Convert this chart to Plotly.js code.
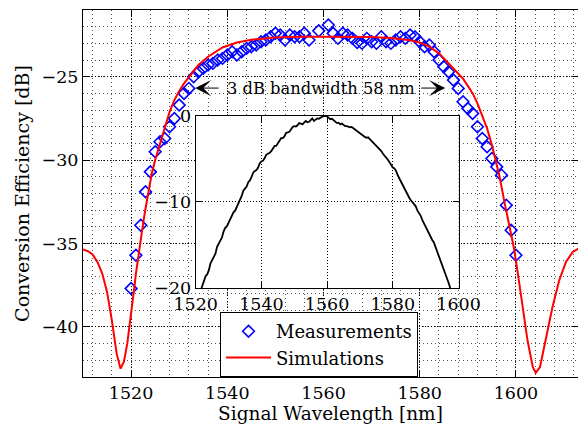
<!DOCTYPE html>
<html><head><meta charset="utf-8">
<script src="https://cdn.plot.ly/plotly-3.0.1.min.js"></script>
<style>html,body{margin:0;padding:0;background:#fff}#chart{width:578px;height:428px}</style>
</head><body><div id="chart"></div>
<script>
// Measurements (diamonds)
const measWl = [1520,1521,1522,1523,1524,1525,1526,1527,1528,1529,1530,1531,1532,1533,1534,1535,1536,1537,1538,1539,
1540,1541,1542,1543,1544,1545,1546,1547,1548,1549,1550,1551,1552,1553,1554,1555,1556,1557,1558,1559,
1560,1561,1562,1563,1564,1565,1566,1567,1568,1569,1570,1571,1572,1573,1574,1575,1576,1577,1578,1579,
1580,1581,1582,1583,1584,1585,1586,1587,1588,1589,1590,1591,1592,1593,1594,1595,1596,1597,1598,1599,1600];
const measCE = [-37.7,-35.7,-33.9,-31.9,-30.7,-29.5,-28.9,-28.7,-28.0,-27.5,-26.7,-26.0,-25.7,-25.0,-24.7,-24.5,-24.3,-24.2,-24.0,-23.9,
-23.7,-23.5,-23.7,-23.5,-23.3,-23.2,-23.1,-22.9,-22.8,-22.6,-22.4,-22.5,-22.8,-22.5,-22.6,-22.6,-22.4,-22.8,null,-22.25,
null,-21.9,-22.4,-22.7,-22.4,-22.5,-22.7,-22.95,-23.0,-22.7,-22.9,-23.0,-22.6,-22.9,-23.0,-22.8,-22.6,-22.7,-22.5,-22.6,
-22.9,-23.2,-23.1,-23.5,-24.0,-24.4,-24.7,-25.2,-25.7,-26.5,-26.9,-27.2,-28.0,-28.7,-29.2,-29.9,-30.4,-30.9,-32.7,-34.2,-35.7];
// Simulations (red line)
const simWl = [1510,1511,1512,1513,1514,1515,1516,1517,1517.8,1518.5,1519.2,1520,1520.6,1521,1521.5,1522,1522.6,1523,1523.6,1524.3,
1525,1526,1527,1528,1529,1530,1531,1532,1534,1536,1539,1542,1545,1550,1555,1560,1565,1570,1574,1576,
1578,1580,1582,1584,1585,1586,1587,1588,1589,1590,1591,1592,1593,1594,1595,1595.7,1596.6,1597.6,1598.6,1599.6,
1600.4,1601.4,1602.4,1603.5,1604.1,1605,1606.2,1607.6,1609,1610.4,1611.8,1613];
const simCE = [-35.35,-35.45,-35.65,-36.1,-36.8,-37.9,-39.6,-41.6,-42.5,-42.1,-41.0,-39.3,-37.8,-36.8,-35.7,-34.7,-33.6,-32.9,-31.8,-30.8,
-30.0,-29.0,-28.0,-27.1,-26.4,-25.85,-25.4,-25.05,-24.3,-23.8,-23.25,-22.95,-22.78,-22.65,-22.6,-22.6,-22.6,-22.62,-22.68,-22.74,
-22.82,-22.95,-23.2,-23.6,-23.9,-24.2,-24.5,-24.8,-25.12,-25.55,-26.0,-26.6,-27.3,-28.1,-29.1,-29.9,-31.0,-32.5,-34.0,-35.3,
-36.8,-38.8,-40.8,-42.4,-42.75,-42.4,-40.8,-38.8,-37.2,-36.1,-35.5,-35.3];
// Inset spectrum (black, noisy)
const insetWl = [1521.5,1522,1522.5,1523,1523.5,1524,1524.5,1525,1525.5,1526,1526.5,1527,1527.5,1528,1528.5,1529,1529.5,1530,1530.5,1531,
1531.5,1532,1532.5,1533,1533.5,1534,1534.5,1535,1535.5,1536,1536.5,1537,1537.5,1538,1538.5,1539,1539.5,1540,1540.5,1541,
1541.5,1542,1542.5,1543,1543.5,1544,1544.5,1545,1545.5,1546,1546.5,1547,1547.5,1548,1548.5,1549,1549.5,1550,1550.5,1551,
1551.5,1552,1552.5,1553,1553.5,1554,1554.5,1555,1555.5,1556,1556.5,1557,1557.5,1558,1558.5,1559,1559.5,1560,1560.5,1561,
1561.5,1562,1562.5,1563,1563.5,1564,1564.5,1565,1565.5,1566,1566.5,1567,1567.5,1568,1568.5,1569,1569.5,1570,1570.5,1571,
1571.5,1572,1572.5,1573,1573.5,1574,1574.5,1575,1575.5,1576,1576.5,1577,1577.5,1578,1578.5,1579,1579.5,1580,1580.5,1581,
1581.5,1582,1582.5,1583,1583.5,1584,1584.5,1585,1585.5,1586,1586.5,1587,1587.5,1588,1588.5,1589,1589.5,1590,1590.5,1591,
1591.5,1592,1592.5,1593,1593.5,1594,1594.5,1595,1595.5,1596,1596.5,1597,1597.5,1597.8];
const insetPow = [-20.3,-19.7,-19.3,-18.6,-18.4,-17.9,-17.1,-16.7,-16.5,-16.0,-15.2,-14.8,-14.6,-14.1,-13.4,-13.0,-12.8,-12.4,-12.2,-11.8,
-11.2,-11.0,-10.6,-10.0,-9.8,-9.3,-8.7,-8.5,-8.2,-7.7,-7.5,-7.1,-6.6,-6.4,-6.3,-6.0,-5.5,-5.3,-5.2,-4.9,
-4.5,-4.4,-4.3,-4.1,-3.7,-3.5,-3.5,-3.2,-2.8,-2.6,-2.6,-2.4,-2.0,-1.9,-1.85,-1.6,-1.3,-1.2,-1.25,-1.1,
-0.85,-0.9,-1.0,-0.8,-0.6,-0.75,-0.7,-0.5,-0.3,-0.6,-0.45,-0.3,-0.35,-0.2,-0.1,-0.05,0.0,-0.1,-0.25,-0.4,
-0.35,-0.55,-0.75,-0.85,-0.8,-1.0,-0.9,-1.05,-1.2,-1.2,-1.25,-1.35,-1.3,-1.45,-1.6,-1.7,-1.95,-2.1,-2.2,-2.4,
-2.45,-2.55,-2.5,-2.7,-2.9,-3.0,-3.25,-3.4,-3.6,-3.9,-4.1,-4.4,-4.6,-4.9,-5.1,-5.4,-5.8,-6.0,-6.1,-6.4,
-6.9,-7.3,-7.6,-8.0,-8.5,-8.8,-9.1,-9.5,-9.8,-10.0,-10.2,-10.5,-11.0,-11.3,-11.6,-12.1,-12.5,-12.8,-13.1,-13.6,
-14.1,-14.4,-14.7,-15.2,-15.9,-16.3,-16.7,-17.2,-17.8,-18.3,-18.7,-19.4,-20.0,-20.4];

const mainXTicks = [1520,1540,1560,1580,1600];
const mainYTicks = [-40,-35,-30,-25];
const insetXTicks = [1520,1540,1560,1580,1600];
const insetYTicks = [-20,-10,0];

const FONT = 'DejaVu Serif';
const gridMajor = {showgrid:true, gridcolor:'#000', gridwidth:1, griddash:'1px,2px'};

const traces = [
  {x:measWl, y:measCE, type:'scatter', mode:'markers', name:'Measurements',
   marker:{symbol:'diamond-open', size:9, color:'#0000ff', line:{width:1.6, color:'#0000ff'}},
   xaxis:'x', yaxis:'y'},
  {x:simWl, y:simCE, type:'scatter', mode:'lines', name:'Simulations',
   line:{color:'#ff0000', width:2}, xaxis:'x', yaxis:'y'},
  {x:insetWl, y:insetPow, type:'scatter', mode:'lines', showlegend:false,
   line:{color:'#000', width:1.8}, xaxis:'x2', yaxis:'y2'}
];

const axCommon = {ticks:'inside', ticklen:6, tickcolor:'#000', showline:true, linecolor:'#000', linewidth:1,
  mirror:'ticks', zeroline:false, tickfont:{family:FONT, size:17.5, color:'#000'}};

const layout = {
  width:578, height:428,
  margin:{l:83, r:0, t:10, b:51, pad:0},
  paper_bgcolor:'#fff', plot_bgcolor:'#fff',
  font:{family:FONT, color:'#000'},
  showlegend:true,
  xaxis:Object.assign({}, axCommon, gridMajor, {
    range:[1510,1612.9], tickmode:'array', tickvals:mainXTicks, anchor:'y',
    minor:{tick0:1520, dtick:4, showgrid:true, gridcolor:'#555', gridwidth:1, griddash:'1px,3px'},
    title:{text:'Signal Wavelength [nm]', font:{family:FONT, size:18.5}, standoff:5}
  }),
  yaxis:Object.assign({}, axCommon, gridMajor, {
    range:[-43,-21], tickmode:'array', tickvals:mainYTicks, anchor:'x',
    minor:{tick0:-40, dtick:1, showgrid:true, gridcolor:'#555', gridwidth:1, griddash:'1px,3px'},
    title:{text:'Conversion Efficiency [dB]', font:{family:FONT, size:19}, standoff:6}
  }),
  xaxis2:Object.assign({}, axCommon, gridMajor, {
    domain:[0.2277,0.7586], range:[1520,1600], tickmode:'array', tickvals:insetXTicks, anchor:'y2'
  }),
  yaxis2:Object.assign({}, axCommon, gridMajor, {
    domain:[0.2419,0.7118], range:[-20,0], tickmode:'array', tickvals:insetYTicks, anchor:'x2'
  }),
  legend:{x:0.2768, y:0, xanchor:'left', yanchor:'bottom', bgcolor:'#fff', bordercolor:'#000', borderwidth:1,
    font:{family:FONT, size:18, color:'#000'}, tracegroupgap:0, itemwidth:45},
  annotations:[
    {x:1559.4, y:-25.68, xref:'x', yref:'y', text:'3 dB bandwidth 58 nm', showarrow:false,
     font:{family:FONT, size:16.3, color:'#000'}},
    {x:1533.3, y:-25.68, ax:1538.5, ay:-25.68, xref:'x', yref:'y', axref:'x', ayref:'y', text:'',
     showarrow:true, arrowhead:3, arrowsize:2.7, arrowwidth:1, arrowcolor:'#000'},
    {x:1585.3, y:-25.68, ax:1580.0, ay:-25.68, xref:'x', yref:'y', axref:'x', ayref:'y', text:'',
     showarrow:true, arrowhead:3, arrowsize:2.7, arrowwidth:1, arrowcolor:'#000'}
  ]
};

Plotly.newPlot('chart', traces, layout, {staticPlot:true, displayModeBar:false});
</script>
</body></html>
